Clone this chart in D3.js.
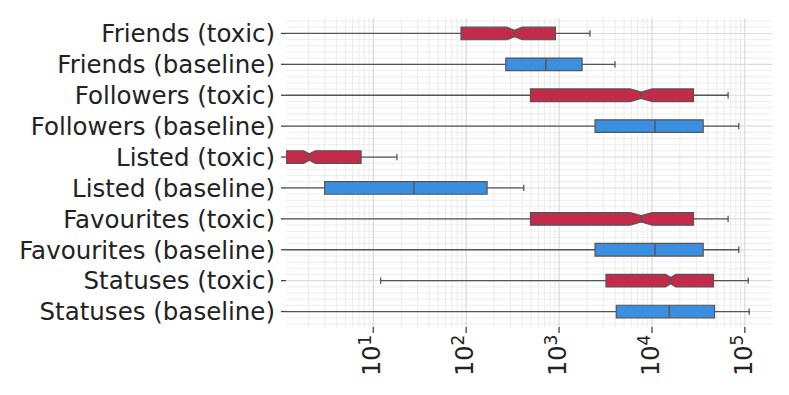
<!DOCTYPE html>
<html>
<head>
<meta charset="utf-8">
<script src="https://cdn.jsdelivr.net/npm/d3@7"></script>
<style>
  body { margin: 0; background: #fff; }
  text { font-family: "DejaVu Sans", sans-serif; fill: #222; }
</style>
</head>
<body>
<div id="chart"></div>
<script>
// categories, top to bottom
var categories = ["Friends (toxic)", "Friends (baseline)", "Followers (toxic)", "Followers (baseline)",
    "Listed (toxic)", "Listed (baseline)", "Favourites (toxic)", "Favourites (baseline)",
    "Statuses (toxic)", "Statuses (baseline)"];
var groups = ["toxic", "baseline", "toxic", "baseline", "toxic", "baseline", "toxic", "baseline", "toxic", "baseline"];

// box statistics (0 = whisker runs off the log axis)
var whiskerLow  = [0, 0, 0, 0, 0, 0, 0, 0, 12, 0];
var q1          = [88, 267, 492, 2440, 1.15, 3.0, 492, 2440, 3200, 4130];
var median      = [330, 720, 7670, 10770, 2.05, 27.4, 7670, 10770, 15900, 15360];
var q3          = [913, 1770, 28000, 35600, 7.4, 168, 28000, 35600, 46000, 47200];
var whiskerHigh = [2150, 4000, 66000, 86000, 18, 417, 66000, 86000, 108600, 111300];
var notchLow    = [274, null, 5800, null, 1.78, null, 5800, null, 14000, null];
var notchHigh   = [403, null, 10100, null, 2.38, null, 10100, null, 18100, null];

var tickValues = [10, 100, 1000, 10000, 100000];
var tickExponents = ["1", "2", "3", "4", "5"];
var xDomain = [1.15, 196000];

var totalWidth = 789, totalHeight = 395;
var margin = {top: 18, right: 17, bottom: 68, left: 286};
var width = totalWidth - margin.left - margin.right;
var height = totalHeight - margin.top - margin.bottom;

var color = d3.scaleOrdinal()
    .domain(["toxic", "baseline"])
    .range(["#c22b4a", "#3a8fe1"]);
var edge = "#555555";

var svg = d3.select("#chart").append("svg")
    .attr("width", totalWidth)
    .attr("height", totalHeight);

var g = svg.append("g")
    .attr("transform", "translate(" + margin.left + "," + margin.top + ")");

var x = d3.scaleLog().domain(xDomain).range([0, width]);
var y = d3.scaleLinear().domain([-0.5, categories.length - 0.5]).range([0, height]);

svg.append("defs").append("clipPath").attr("id", "plotclip")
    .append("rect").attr("width", width).attr("height", height);

// minor vertical grid
var minorX = [];
for (var p = 0; p <= 5; ++p) {
    for (var m = 2; m <= 9; ++m) {
        var v = m * Math.pow(10, p);
        if (v > xDomain[0] && v < xDomain[1]) minorX.push(v);
    }
}
g.append("g").selectAll("line")
    .data(minorX)
    .enter().append("line")
    .attr("x1", function(d) { return x(d); })
    .attr("x2", function(d) { return x(d); })
    .attr("y1", 0).attr("y2", height)
    .attr("stroke", "#ebebeb").attr("stroke-width", 1);

// minor horizontal grid (every 0.2 row)
var minorY = d3.range(-0.4, categories.length - 0.5, 0.2).filter(function(d) {
    return Math.abs(d - Math.round(d)) > 0.05;
});
g.append("g").selectAll("line")
    .data(minorY)
    .enter().append("line")
    .attr("x1", 0).attr("x2", width)
    .attr("y1", function(d) { return y(d); })
    .attr("y2", function(d) { return y(d); })
    .attr("stroke", "#ededed").attr("stroke-width", 1);

// major grid
g.append("g").selectAll("line")
    .data(tickValues)
    .enter().append("line")
    .attr("x1", function(d) { return x(d); })
    .attr("x2", function(d) { return x(d); })
    .attr("y1", 0).attr("y2", height)
    .attr("stroke", "#d6d6d6").attr("stroke-width", 1.1);

g.append("g").selectAll("line")
    .data(categories)
    .enter().append("line")
    .attr("x1", 0).attr("x2", width)
    .attr("y1", function(d, i) { return y(i); })
    .attr("y2", function(d, i) { return y(i); })
    .attr("stroke", "#dcdcdc").attr("stroke-width", 1.1);

// boxes
var half = 6.3;
var plot = g.append("g").attr("clip-path", "url(#plotclip)");

function xs(v) { return v > 0 ? x(v) : -10; }

var rows = plot.selectAll(".row")
    .data(categories)
    .enter().append("g")
    .attr("class", "row")
    .attr("transform", function(d, i) { return "translate(0," + y(i) + ")"; });

// whiskers
rows.append("line")
    .attr("x1", function(d, i) { return xs(whiskerLow[i]); })
    .attr("x2", function(d, i) { return x(q1[i]); })
    .attr("stroke", edge).attr("stroke-width", 1.3);
rows.append("line")
    .attr("x1", function(d, i) { return x(q3[i]); })
    .attr("x2", function(d, i) { return x(whiskerHigh[i]); })
    .attr("stroke", edge).attr("stroke-width", 1.3);

// caps
rows.filter(function(d, i) { return whiskerLow[i] > 0; })
    .append("line")
    .attr("x1", function(d) { return x(whiskerLow[categories.indexOf(d)]); })
    .attr("x2", function(d) { return x(whiskerLow[categories.indexOf(d)]); })
    .attr("y1", -half / 2).attr("y2", half / 2)
    .attr("stroke", edge).attr("stroke-width", 1.3);
rows.append("line")
    .attr("x1", function(d, i) { return x(whiskerHigh[i]); })
    .attr("x2", function(d, i) { return x(whiskerHigh[i]); })
    .attr("y1", -half / 2).attr("y2", half / 2)
    .attr("stroke", edge).attr("stroke-width", 1.3);

// box bodies
rows.append("path")
    .attr("d", function(d, i) {
        var a = x(q1[i]), b = x(q3[i]), md = x(median[i]);
        if (notchLow[i] == null) {
            return "M" + a + "," + (-half) + "H" + b + "V" + half + "H" + a + "Z";
        }
        var nl = x(notchLow[i]), nh = x(notchHigh[i]);
        return "M" + a + "," + (-half) + "H" + nl + "L" + md + "," + (-half / 2) +
            "L" + nh + "," + (-half) + "H" + b + "V" + half + "H" + nh +
            "L" + md + "," + (half / 2) + "L" + nl + "," + half + "H" + a + "Z";
    })
    .attr("fill", function(d, i) { return color(groups[i]); })
    .attr("stroke", edge).attr("stroke-width", 1.2)
    .attr("stroke-linejoin", "miter");

// medians
rows.append("line")
    .attr("x1", function(d, i) { return x(median[i]); })
    .attr("x2", function(d, i) { return x(median[i]); })
    .attr("y1", function(d, i) { return notchLow[i] == null ? -half : -half / 2; })
    .attr("y2", function(d, i) { return notchLow[i] == null ? half : half / 2; })
    .attr("stroke", edge).attr("stroke-width", 1.4);

// y tick marks and labels
var yTicks = g.append("g").selectAll("g")
    .data(categories)
    .enter().append("g")
    .attr("transform", function(d, i) { return "translate(0," + y(i) + ")"; });
yTicks.append("line")
    .attr("x1", -5).attr("x2", 0)
    .attr("stroke", "#444").attr("stroke-width", 1.3);
yTicks.append("text")
    .attr("x", -11)
    .attr("dy", "0.36em")
    .attr("text-anchor", "end")
    .style("font-size", "24.5px")
    .text(function(d) { return d; });

// x tick marks and rotated labels
var xTicks = g.append("g").selectAll("g")
    .data(tickValues)
    .enter().append("g")
    .attr("transform", function(d) { return "translate(" + x(d) + "," + height + ")"; });
xTicks.append("line")
    .attr("y1", 0).attr("y2", 6)
    .attr("stroke", "#444").attr("stroke-width", 1.3);
var lbl = xTicks.append("text")
    .attr("transform", "translate(7,49) rotate(-90)")
    .attr("text-anchor", "start")
    .style("font-size", "24px");
lbl.append("tspan").text("10");
lbl.append("tspan")
    .attr("dy", "-9")
    .style("font-size", "17px")
    .text(function(d, i) { return tickExponents[i]; });
</script>
</body>
</html>
